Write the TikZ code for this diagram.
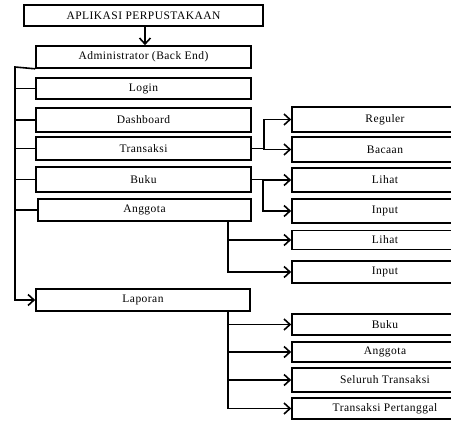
\documentclass[tikz,border=0pt]{standalone}
\usepackage{fontspec}
\setmainfont{Liberation Serif}[LetterSpace=4]
\usepackage{tikz}
\usetikzlibrary{positioning,arrows.meta}

\begin{document}
\begin{tikzpicture}[x=1pt, y=-1pt,
    box/.style={draw, line width=1.6pt, rectangle, inner sep=0pt,
      font=\fontsize{11.5}{13}\selectfont},
    menu/.style={box, minimum width=215pt},
    sub/.style={box, minimum width=186pt},
    arr/.style={line width=1.6pt, -{Straight Barb[length=6pt,width=11pt,line width=1.6pt]}},
    wire/.style={line width=1.6pt}]
      \useasboundingbox (0,0) rectangle (451,421);
      % main column
      \node(app) [box, minimum width=239pt, minimum height=21pt] at (143.5,15.5) {APLIKASI PERPUSTAKAAN};
      \node(admin) [menu, minimum height=22pt] at (143.5,57) {Administrator\ (Back End)};
      \node(login) [menu, minimum height=21pt] at (143.5,88.5) {Login};
      \node(dash) [menu, minimum height=24pt] at (143.5,120) {Dashboard};
      \node(trans) [menu, minimum height=23pt] at (143.5,148.5) {Transaksi};
      \node(buku) [menu, minimum height=25pt] at (143.5,179.5) {Buku};
      \node(anggota) [menu, minimum width=213pt, minimum height=22pt] at (144.5,210) {Anggota};
      \node(laporan) [menu, minimum width=214pt, minimum height=22pt] at (143,300) {Laporan};

      % sub menus
      \node(reguler) [sub, minimum height=25pt] at (385,119.5) {Reguler};
      \node(bacaan) [sub, minimum height=25pt] at (385,149.5) {Bacaan};
      \node(lihatb) [sub, minimum height=24pt] at (385,180) {Lihat};
      \node(inputb) [sub, minimum height=24pt] at (385,211) {Input};
      \node(lihata) [sub, minimum height=19pt] at (385,240) {Lihat};
      \node(inputa) [sub, minimum height=22pt] at (385,272) {Input};
      \node(lbuku) [sub, minimum height=21pt] at (385,324.5) {Buku};
      \node(langgota) [sub, minimum height=20pt] at (385,352) {Anggota};
      \node(lsemua) [sub, minimum height=24pt] at (385,380) {Seluruh\ Transaksi};
      \node(ltanggal) [sub, minimum height=21pt] at (385,408.5) {Transaksi\ Pertanggal};

      \coordinate(trunk) at (15,67);

      \draw[arr] ([xshift=1.5pt]app.south) -- ([xshift=1.5pt]app.south |- admin.north);
      \draw[arr] (admin.south west) -- (trunk) |- (laporan.west);
      \draw[wire] (login.west) -- (login.west -| trunk);
      \draw[wire] (dash.west) -- (dash.west -| trunk);
      \draw[wire] (trans.west) -- (trans.west -| trunk);
      \draw[wire] (buku.west) -- (buku.west -| trunk);
      \draw[wire] (anggota.west) -- (anggota.west -| trunk);

      \draw[arr] (trans.east) -- ++(12,0) coordinate(tj) |- (reguler.west);
      \draw[arr] (tj) |- (bacaan.west);
      \draw[arr] (buku.east) -- ++(11,0) coordinate(bj) |- (lihatb.west);
      \draw[arr] (bj) |- (inputb.west);
      \draw[arr] ([xshift=83.5pt]anggota.south) coordinate(aj) |- (lihata.west);
      \draw[arr] (aj) |- (inputa.west);
      \draw[arr] ([xshift=85pt]laporan.south) coordinate(lj) |- (lbuku.west);
      \draw[arr] (lj) |- (langgota.west);
      \draw[arr] (lj) |- (lsemua.west);
      \draw[arr] (lj) |- (ltanggal.west);
    \end{tikzpicture}
\end{document}
